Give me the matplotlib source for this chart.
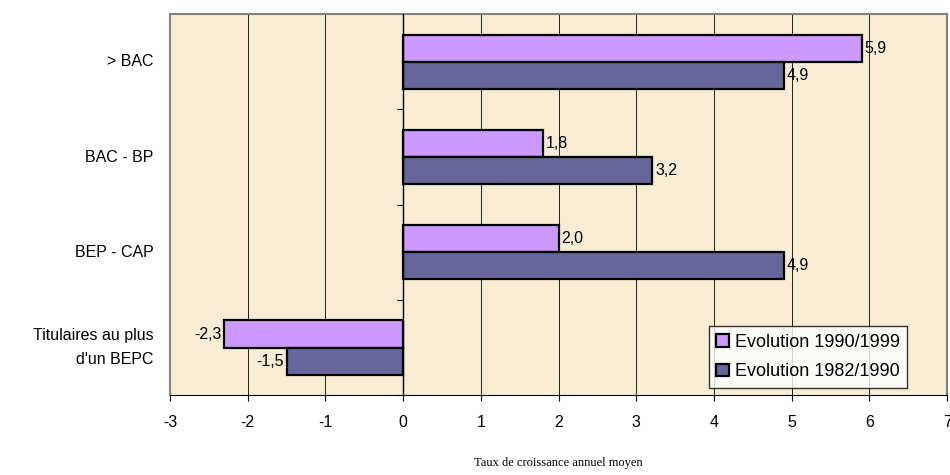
import matplotlib.pyplot as plt
import numpy as np

plt.rcParams['font.family'] = ['Liberation Sans', 'DejaVu Sans']

categories = ['> BAC', 'BAC - BP', 'BEP - CAP', "Titulaires au plus\nd'un BEPC"]
evol_1990_1999 = [5.9, 1.8, 2.0, -2.3]
evol_1982_1990 = [4.9, 3.2, 4.9, -1.5]
xticks = [-3, -2, -1, 0, 1, 2, 3, 4, 5, 6, 7]

fig = plt.figure(figsize=(9.5, 4.75), dpi=100)
ax = fig.add_axes([0.179, 0.168, 0.818, 0.802])
ax.set_facecolor('#F9ECD4')

n = len(categories)
y = np.arange(n)[::-1]
h = 0.285

b1 = ax.barh(y + h / 2, evol_1990_1999, height=h, color='#CC99FF',
             edgecolor='black', linewidth=1.6, label='Evolution 1990/1999', zorder=3)
b2 = ax.barh(y - h / 2, evol_1982_1990, height=h, color='#666699',
             edgecolor='black', linewidth=1.6, label='Evolution 1982/1990', zorder=3)

# etiquettes de valeurs, format francais
for bars, vals in [(b1, evol_1990_1999), (b2, evol_1982_1990)]:
    for bar, v in zip(bars, vals):
        cy = bar.get_y() + bar.get_height() / 2
        txt = f'{v:.1f}'.replace('.', ',')
        if v >= 0:
            ax.text(v + 0.04, cy, txt, va='center', ha='left', fontsize=11.5, zorder=5)
        else:
            ax.text(v - 0.04, cy, txt, va='center', ha='right', fontsize=11.5, zorder=5)

ax.set_xlim(-3, 7)
ax.set_ylim(-0.5, n - 0.5)
ax.set_xticks(xticks)
ax.set_xticklabels([str(t) for t in xticks], fontsize=11.5)
ax.tick_params(axis='x', length=4, direction='out', pad=10)
ax.set_yticks(y)
ax.set_yticklabels(categories, fontsize=11.5, ha='right', linespacing=1.75,
                   va='center')
ax.tick_params(axis='y', length=0, pad=12)

for xv in xticks[1:-1]:
    ax.axvline(xv, color='black', linewidth=0.6, zorder=1)
ax.axvline(0, color='black', linewidth=1.0, zorder=4)

for s in ['top', 'right', 'left']:
    ax.spines[s].set_color('#808080')
    ax.spines[s].set_linewidth(1.5)
ax.spines['bottom'].set_color('black')

sec = ax.secondary_yaxis(0.3)
sec.set_yticks(np.arange(n + 1) - 0.5)
sec.set_yticklabels([])
sec.tick_params(length=4, direction='out', width=0.8)
sec.spines['left'].set_visible(False)

ax.set_xlabel('Taux de croissance annuel moyen', family='Liberation Serif',
              fontsize=9, labelpad=20)

leg = ax.legend(loc='lower right', bbox_to_anchor=(0.948, 0.02), fontsize=13,
                frameon=True, fancybox=False, edgecolor='black',
                handlelength=0.7, handleheight=0.7, handletextpad=0.3,
                borderpad=0.4, labelspacing=0.7, borderaxespad=0)
leg.get_frame().set_linewidth(1.0)
leg.set_zorder(6)

fig.savefig('out.png', dpi=100)
